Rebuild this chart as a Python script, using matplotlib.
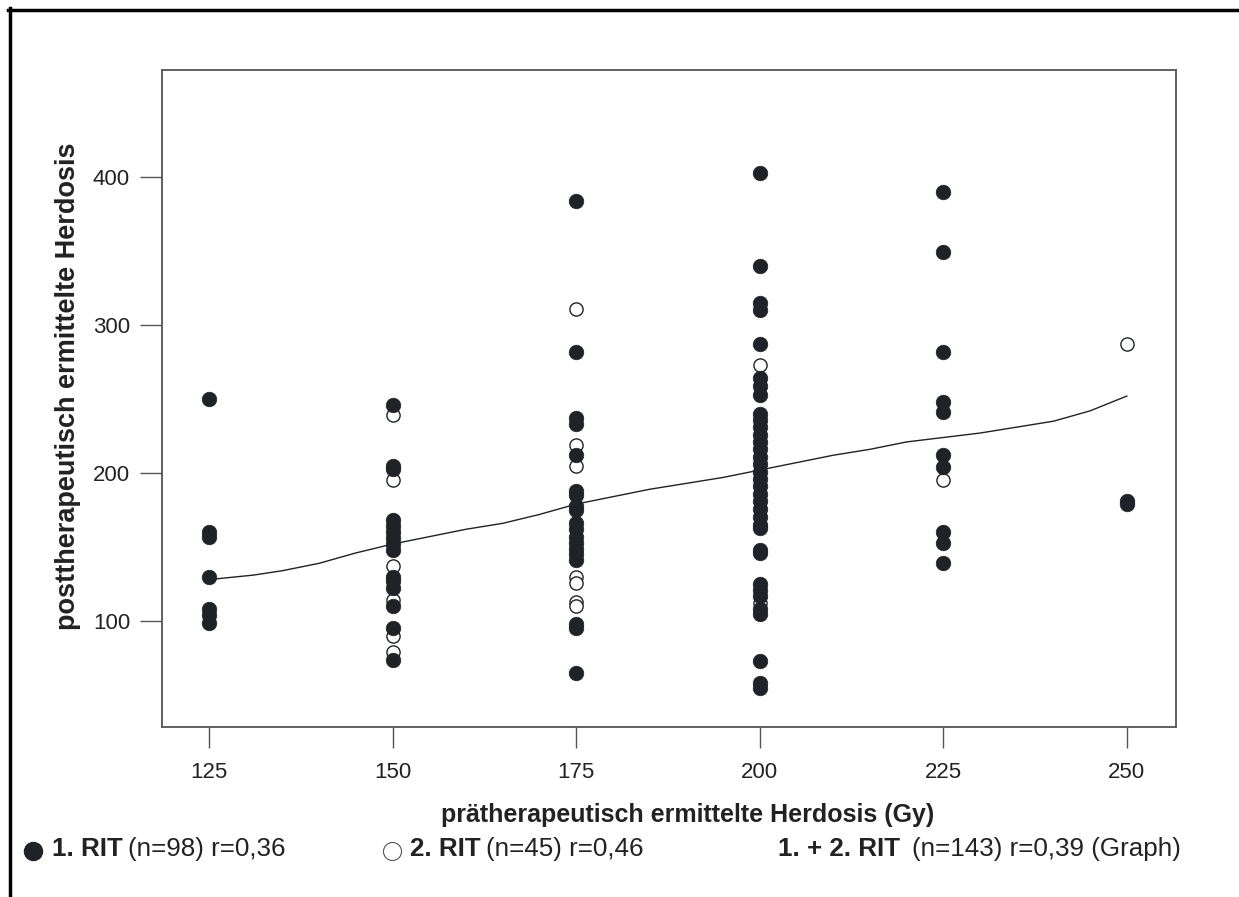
import matplotlib.pyplot as plt
from matplotlib.lines import Line2D

plt.rcParams['font.family'] = ['Liberation Sans', 'DejaVu Sans']

W, H = 1239, 897

doses = [125, 150, 175, 200, 225, 250]

# 1. RIT (filled), post-therapeutic dose per pre-therapeutic dose
rit1_post = [
    [250, 160, 157, 130, 108, 104, 99],
    [246, 205, 203, 168, 164, 160, 156, 152, 148, 130, 127, 122, 110, 95, 74],
    [384, 282, 237, 233, 212, 188, 185, 178, 175, 166, 162, 157, 153, 149,
     145, 141, 98, 95, 65],
    [403, 340, 315, 310, 287, 264, 259, 253, 240, 236, 231, 226, 221, 216,
     211, 206, 201, 196, 191, 186, 181, 176, 170, 165, 163, 148, 146, 125,
     121, 117, 108, 105, 73, 58, 55],
    [390, 349, 282, 248, 241, 212, 204, 160, 153, 139],
    [181, 179],
]

# 2. RIT (open)
rit2_post = [
    [],
    [239, 195, 137, 114, 90, 79],
    [311, 219, 205, 130, 126, 113, 110],
    [273, 112],
    [195],
    [287],
]

# fitted graph 1. + 2. RIT
fit_x = [125, 131, 135, 140, 145, 150, 155, 160, 165, 170, 175, 180, 185,
         190, 195, 200, 205, 210, 215, 220, 225, 230, 235, 240, 245, 250]
fit_y = [128, 131, 134, 139, 146, 152, 157, 162, 166, 172, 179, 184, 189,
         193, 197, 202, 207, 212, 216, 221, 224, 227, 231, 235, 242, 252]

xticks = [125, 150, 175, 200, 225, 250]
yticks = [100, 200, 300, 400]

dark = '#1f2226'

fig = plt.figure(figsize=(W / 100, H / 100), dpi=100)
ax = fig.add_axes([162 / W, 1 - 727 / H, (1176 - 162) / W, (727 - 70) / H])

x2, y2 = [], []
for d, vals in zip(doses, rit2_post):
    x2 += [d] * len(vals)
    y2 += vals
x1, y1 = [], []
for d, vals in zip(doses, rit1_post):
    x1 += [d] * len(vals)
    y1 += vals

ax.plot(x2, y2, 'o', ms=9.5, mfc='white', mec=dark, mew=1.0, zorder=3)
ax.plot(x1, y1, 'o', ms=10.5, mfc=dark, mec=dark, mew=0.5, zorder=4)
ax.plot(fit_x, fit_y, color=dark, lw=1.0, zorder=5)

ax.set_xlim(118.6, 256.7)
ax.set_ylim(28.4, 472.3)
ax.set_xticks(xticks)
ax.set_yticks(yticks)
ax.tick_params(axis='x', length=15, width=1, color='#555555', pad=10,
               labelsize=16, labelcolor='#222222')
ax.tick_params(axis='y', length=16, width=1, color='#555555', pad=7,
               labelsize=16, labelcolor='#222222')
for s in ax.spines.values():
    s.set_color('#555555')
    s.set_linewidth(1.3)

fig.text(688 / W, 1 - 815 / H, 'prätherapeutisch ermittelte Herdosis (Gy)',
         ha='center', va='center', fontsize=18, fontweight='bold', color='#222222')
fig.text(68 / W, 1 - 386 / H, 'posttherapeutisch ermittelte Herdosis',
         ha='center', va='center', rotation=90, fontsize=19.5,
         fontweight='bold', color='#222222')

# outer frame (top and left)
fig.add_artist(Line2D([8 / W, 1], [1 - 10 / H, 1 - 10 / H], color='black',
                      lw=2.5, transform=fig.transFigure))
fig.add_artist(Line2D([10 / W, 10 / W], [1 - 8 / H, 0], color='black',
                      lw=2.5, transform=fig.transFigure))

# legend line
ly = 1 - 849 / H
fig.add_artist(Line2D([33 / W], [1 - 851 / H], marker='o', ms=13, mfc=dark,
                      mec=dark, transform=fig.transFigure))
fig.add_artist(Line2D([392 / W], [1 - 851 / H], marker='o', ms=13, mfc='white',
                      mec='#555555', mew=0.8, transform=fig.transFigure))


def legend_text(x, bold, normal, gap=4):
    t = fig.text(x / W, ly, bold, fontsize=18.7, fontweight='bold',
                 va='center', color='#222222')
    fig.canvas.draw()
    plt.annotate(normal, xy=(1, 0), xycoords=t, xytext=(gap, 0),
                 textcoords='offset points', fontsize=18.7, va='bottom',
                 color='#222222')


legend_text(52, '1. RIT', '(n=98) r=0,36')
legend_text(410, '2. RIT', '(n=45) r=0,46')
legend_text(778, '1. + 2. RIT', '(n=143) r=0,39 (Graph)', gap=9)

fig.savefig('out.png', dpi=100)
